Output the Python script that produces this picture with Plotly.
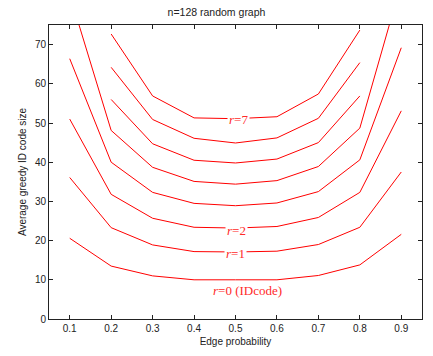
import plotly.graph_objects as go

edge_prob = [0.1, 0.2, 0.3, 0.4, 0.5, 0.6, 0.7, 0.8, 0.9]
r0 = [20.6, 13.5, 11.0, 10.0, 10.0, 10.0, 11.1, 13.8, 21.6]
r1 = [36.1, 23.3, 18.9, 17.2, 17.1, 17.3, 19.0, 23.4, 37.5]
r2 = [51.0, 31.8, 25.7, 23.4, 23.2, 23.6, 25.9, 32.3, 53.1]
r3 = [66.4, 40.0, 32.3, 29.5, 28.9, 29.6, 32.5, 40.6, 69.2]
r4 = [82.8, 48.1, 38.7, 35.1, 34.4, 35.3, 38.9, 48.7, 85.7]
r5 = [None, 56.0, 44.7, 40.5, 39.8, 40.8, 45.0, 56.9, None]
r6 = [None, 64.2, 50.9, 46.1, 44.9, 46.2, 51.2, 65.4, None]
r7 = [None, 72.7, 56.9, 51.3, 51.1, 51.6, 57.4, 73.7, None]
series = [r0, r1, r2, r3, r4, r5, r6, r7]

label_text = ["<i>r</i>=7", "<i>r</i>=2", "<i>r</i>=1", "<i>r</i>=0 (IDcode)"]
label_x = [0.508, 0.502, 0.500, 0.528]
label_y = [50.9, 22.7, 16.6, 7.3]
label_bg = ["white", "white", "white", "rgba(0,0,0,0)"]

x_ticks = [0.1, 0.2, 0.3, 0.4, 0.5, 0.6, 0.7, 0.8, 0.9]
y_ticks = [0, 10, 20, 30, 40, 50, 60, 70]

fig = go.Figure()
for s in series:
    fig.add_trace(go.Scatter(x=edge_prob, y=s, mode="lines",
                             line=dict(color="red", width=1),
                             connectgaps=False, showlegend=False,
                             hoverinfo="skip"))

for t, lx, ly, bg in zip(label_text, label_x, label_y, label_bg):
    fig.add_annotation(x=lx, y=ly, text=t, showarrow=False,
                       font=dict(family="Liberation Serif", size=13, color="#ff2a2a"),
                       bgcolor=bg, borderpad=1, xanchor="center", yanchor="middle")

axis_font = dict(family="Liberation Sans, Arial, sans-serif", size=10, color="#222")
fig.update_layout(
    width=433, height=356,
    margin=dict(l=49, r=11, t=25, b=37),
    paper_bgcolor="white", plot_bgcolor="white",
    title=dict(text="n=128 random graph", x=0.5, xanchor="center",
               y=1 - 12.7 / 356, yanchor="middle",
               font=dict(family="Liberation Sans, Arial, sans-serif", size=10.5, color="#222")),
    xaxis=dict(range=[0.05, 0.95], tickvals=x_ticks, ticktext=[f"{v:.1f}" for v in x_ticks],
               ticks="inside", ticklen=4, tickcolor="#222", showline=True, linecolor="#222",
               linewidth=1, mirror="ticks", showgrid=False, zeroline=False,
               tickfont=axis_font,
               title=dict(text="Edge probability", font=axis_font, standoff=4)),
    yaxis=dict(range=[0, 75], tickvals=y_ticks, ticks="inside", ticklen=4, tickcolor="#222",
               showline=True, linecolor="#222", linewidth=1, mirror="ticks",
               showgrid=False, zeroline=False, tickfont=axis_font,
               title=dict(text="Average greedy ID code size", font=axis_font, standoff=6)),
)

# Remove the browser's default 8px body margin so the figure fills the window.
fig.write_html("out.html", config={"displayModeBar": False},
               post_script="document.body.style.margin='0';")
